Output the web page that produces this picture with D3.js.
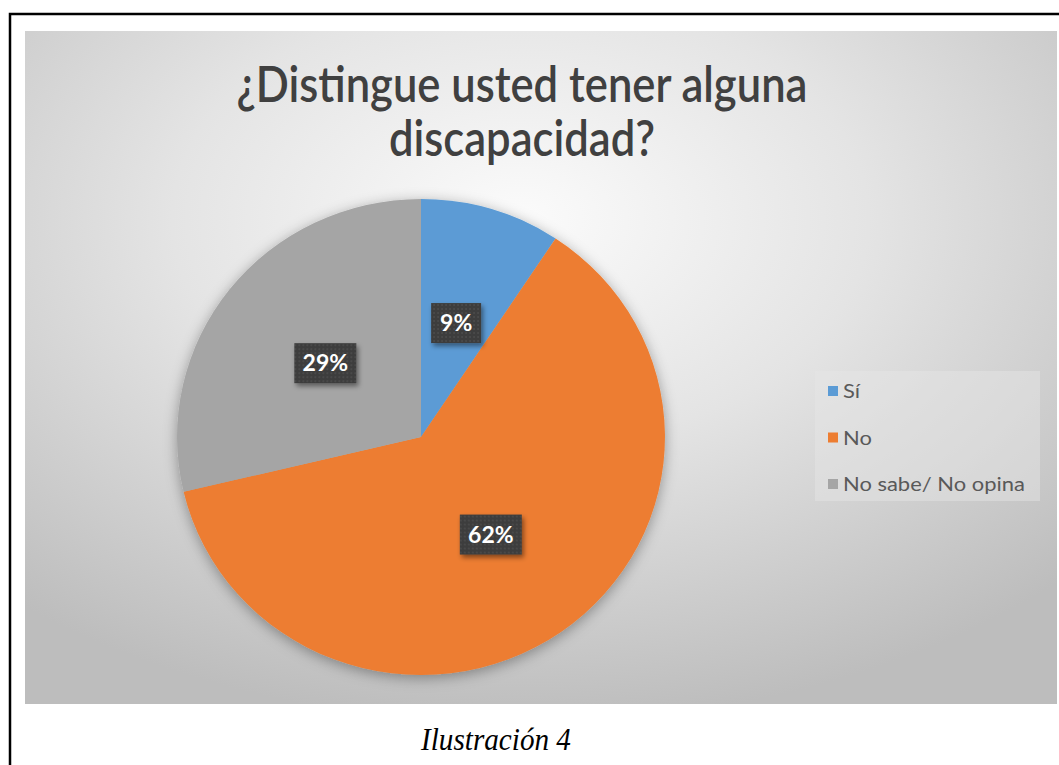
<!DOCTYPE html>
<html>
<head>
<meta charset="utf-8">
<script src="https://cdn.jsdelivr.net/npm/d3@7"></script>
<style>
  body { margin: 0; background: #fff; }
  svg { display: block; }
</style>
</head>
<body>
<div id="chart"></div>
<script>
// DATA
const categories = ["Sí", "No", "No sabe/ No opina"];
const values = [9.3, 62.0, 28.7];
const colors = ["#5b9bd5", "#ed7d31", "#a5a5a5"];
const titleLines = ["¿Distingue usted tener alguna", "discapacidad?"];
const caption = "Ilustración 4";

const W = 1059, H = 765;
const panel = { x: 25, y: 31, w: 1032, h: 673 };

const svg = d3.select("#chart").append("svg")
    .attr("width", W)
    .attr("height", H);

const defs = svg.append("defs");

const grad = defs.append("radialGradient")
    .attr("id", "bg")
    .attr("cx", "48%").attr("cy", "28%").attr("r", "75%");
grad.append("stop").attr("offset", "0%").attr("stop-color", "#fbfbfb");
grad.append("stop").attr("offset", "45%").attr("stop-color", "#e4e4e4");
grad.append("stop").attr("offset", "100%").attr("stop-color", "#bdbdbd");

const shadow = defs.append("filter").attr("id", "shadow")
    .attr("x", "-20%").attr("y", "-20%").attr("width", "140%").attr("height", "140%");
shadow.append("feDropShadow")
    .attr("dx", 0).attr("dy", 3).attr("stdDeviation", 7)
    .attr("flood-color", "#000").attr("flood-opacity", 0.35);

const lblShadow = defs.append("filter").attr("id", "lblShadow")
    .attr("x", "-30%").attr("y", "-30%").attr("width", "160%").attr("height", "160%");
lblShadow.append("feDropShadow")
    .attr("dx", 2).attr("dy", 3).attr("stdDeviation", 2.5)
    .attr("flood-color", "#000").attr("flood-opacity", 0.45);

const dots = defs.append("pattern").attr("id", "dots")
    .attr("width", 4).attr("height", 4).attr("patternUnits", "userSpaceOnUse");
dots.append("rect").attr("width", 4).attr("height", 4).attr("fill", "#3d3d3d");
dots.append("circle").attr("cx", 2).attr("cy", 2).attr("r", 0.8).attr("fill", "#565656");

// fit text horizontally to a target width (fonts differ from the original)
function fitX(sel, x, targetW, anchor) {
    const w = sel.node().getComputedTextLength();
    const k = targetW / w;
    sel.attr("x", 0).attr("text-anchor", anchor)
        .attr("transform", `translate(${x},${sel.attr("y")}) scale(${k},1)`)
        .attr("y", 0);
}

// outer page frame
svg.append("path")
    .attr("d", `M10,${H} L10,14 L${W},14`)
    .attr("fill", "none")
    .attr("stroke", "#000")
    .attr("stroke-width", 2.5);

// chart panel
svg.append("rect")
    .attr("x", panel.x).attr("y", panel.y)
    .attr("width", panel.w).attr("height", panel.h)
    .attr("fill", "url(#bg)");

// TITLE
const title = svg.append("g").attr("fill", "#404040")
    .style("font-family", "Lato, 'Open Sans', sans-serif")
    .style("font-weight", 600)
    .style("font-size", "50px");

const t1 = title.append("text").attr("y", 102).text(titleLines[0]);
const t2 = title.append("text").attr("y", 156).text(titleLines[1]);
const k1 = 571 / t1.node().getComputedTextLength();
fitX(t1, 522, 571, "middle");
t2.attr("x", 0).attr("text-anchor", "middle")
    .attr("transform", `translate(522,156) scale(${k1},1)`).attr("y", 0);

// PIE
const cx = 421, cy = 437, radius = 238;
const pie = d3.pie().sort(null).value(d => d);
const arc = d3.arc().innerRadius(0).outerRadius(radius);
const arcs = pie(values);

const pieG = svg.append("g")
    .attr("transform", `translate(${cx},${cy}) scale(1.025,1)`);

pieG.append("g")
    .attr("filter", "url(#shadow)")
    .selectAll("path")
    .data(arcs)
    .join("path")
    .attr("d", arc)
    .attr("fill", (d, i) => colors[i]);

// LABELS
const labelG = svg.append("g");
arcs.forEach((d, i) => {
    const [lx, ly] = arc.centroid(d);
    const x = cx + lx * 1.025, y = cy + ly;
    const g = labelG.append("g").attr("transform", `translate(${x},${y})`);
    const txt = Math.round(d.data) + "%";
    const bw = txt.length === 2 ? 50 : 62;
    g.append("rect")
        .attr("x", -bw / 2).attr("y", -20)
        .attr("width", bw).attr("height", 40)
        .attr("fill", "url(#dots)")
        .attr("filter", "url(#lblShadow)");
    g.append("text")
        .attr("text-anchor", "middle")
        .attr("dy", "0.36em")
        .attr("fill", "#fff")
        .style("font-family", "Lato, 'Open Sans', sans-serif")
        .style("font-weight", 700)
        .style("font-size", "23px")
        .text(txt);
});

// LEGEND
const legend = svg.append("g");
legend.append("rect")
    .attr("x", 815).attr("y", 371)
    .attr("width", 225).attr("height", 130)
    .attr("fill", "#e6e6e6")
    .attr("opacity", 0.45);

const legendY = d3.scalePoint().domain(categories).range([391, 484]);
const items = legend.selectAll("g.item")
    .data(categories)
    .join("g")
    .attr("class", "item")
    .attr("transform", d => `translate(828,${legendY(d)})`);
items.append("rect")
    .attr("x", 0).attr("y", -5)
    .attr("width", 10).attr("height", 10)
    .attr("fill", (d, i) => colors[i]);
const legendText = items.append("text")
    .attr("x", 15).attr("dy", "0.36em")
    .attr("fill", "#595959")
    .style("font-family", "Lato, 'Open Sans', sans-serif")
    .style("font-size", "20px")
    .text(d => d);
// squeeze legend labels so the longest one matches the original width
const kl = 182 / d3.max(legendText.nodes(), n => n.getComputedTextLength());
legendText.attr("x", 0).attr("transform", `translate(15,0) scale(${kl},1)`);

// CAPTION
const cap = svg.append("text")
    .attr("y", 750)
    .attr("fill", "#000")
    .style("font-family", "'Liberation Serif', 'DejaVu Serif', serif")
    .style("font-style", "italic")
    .style("font-size", "31px")
    .text(caption);
fitX(cap, 496, 150, "middle");
</script>
</body>
</html>
